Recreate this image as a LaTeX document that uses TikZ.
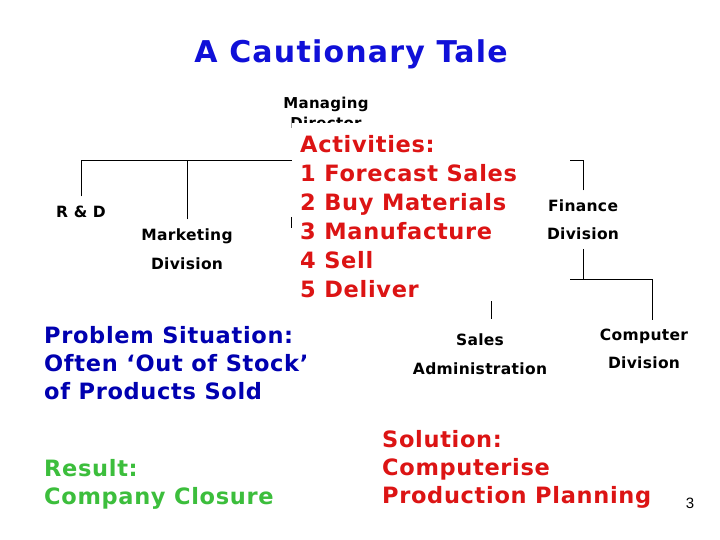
\documentclass[tikz,border=0pt]{standalone}
\usepackage{fontspec}
\setmainfont{DejaVu Sans}
\newfontfamily\labelfont[LetterSpace=2]{DejaVu Sans}
\newfontfamily\notefont[LetterSpace=3]{DejaVu Sans}
\newfontfamily\titlefont[LetterSpace=4]{DejaVu Sans}
\newfontfamily\pagefont{Liberation Sans}
\usetikzlibrary{positioning,calc}
\definecolor{titleblue}{HTML}{1010D8}
\definecolor{probblue}{HTML}{0000B0}
\definecolor{actred}{HTML}{DC1414}
\definecolor{resgreen}{HTML}{3CBE3C}
\tikzset{
  orgline/.style={line width=1pt,black},
  orgnode/.style={anchor=north,align=center,inner xsep=0,inner ysep=9pt,font=\labelfont\fontsize{15.5}{29}\selectfont\bfseries},
  % the big coloured notes: anchored at their top left corner
  note/.style={anchor=north west,align=left,inner sep=0,font=\notefont\fontsize{22.5}{28.3}\selectfont\bfseries},
  coverbox/.style={rectangle,fill=white,inner sep=0,anchor=north west},
}
\begin{document}
\begin{tikzpicture}[x=1pt,y=-1pt]
  \useasboundingbox[fill=white] (0,0) rectangle (720,540);
  \node[anchor=base,font=\titlefont\fontsize{30}{32}\selectfont\bfseries,text=titleblue] (title) at (351,63) {A Cautionary Tale};
  % chart, partly hidden by the activities box
  \node[orgnode,font=\labelfont\fontsize{15}{20}\selectfont\bfseries] (md) at (326,87.5) {Managing\\Director};
  \node[coverbox,minimum width=278pt,minimum height=178pt] (act) at (292,123) {};
  \coordinate (bus) at (0,161);
  \coordinate (bus2) at (0,279);
  \node[orgnode] (rd) at (81,196.5) {R \& D};
  \node[orgnode] (mkt) at (187,219.5) {Marketing\\Division};
  \node[orgnode,font=\labelfont\fontsize{15.5}{28}\selectfont\bfseries] (fin) at (583,190.5) {Finance\\Division};
  \node[orgnode] (sales) at (480,324.5) {Sales\\Administration};
  \node[orgnode,font=\labelfont\fontsize{15.5}{28}\selectfont\bfseries] (comp) at (644,319.5) {Computer\\Division};
  \draw[orgline] (rd.north) |- (act.west |- bus);
  \draw[orgline] (mkt.north) -- (mkt.north |- bus);
  \draw[orgline] (fin.north) |- (act.east |- bus);
  \draw[orgline] (fin.south) -- (fin.south |- bus2);
  \draw[orgline] (act.east |- bus2) -| ([xshift=8pt]comp.north);
  \draw[orgline,shorten >=6pt] ([xshift=11pt]sales.north |- act.south) -- ([xshift=11pt]sales.north);
  \coordinate (prodtick) at (291,217);
  \draw[orgline] (prodtick) -- ++(0,11);
  % notes
  \node[note,font=\notefont\fontsize{22.5}{29}\selectfont\bfseries,text=actred] (acts) at (300,135)
    {Activities:\\1 Forecast Sales\\2 Buy Materials\\3 Manufacture\\4 Sell\\5 Deliver};
  \node[note,text=probblue] (problem) at (44,326) {Problem Situation:\\Often ‘Out of Stock’\\of Products Sold};
  \node[note,text=resgreen] (result) at (44,459) {Result:\\Company Closure};
  \node[note,text=actred] (solution) at (382,430) {Solution:\\Computerise\\Production Planning};
  \node[anchor=base,font=\pagefont\fontsize{15}{16}\selectfont] (pagenum) at (690,508) {3};
\end{tikzpicture}
\end{document}
